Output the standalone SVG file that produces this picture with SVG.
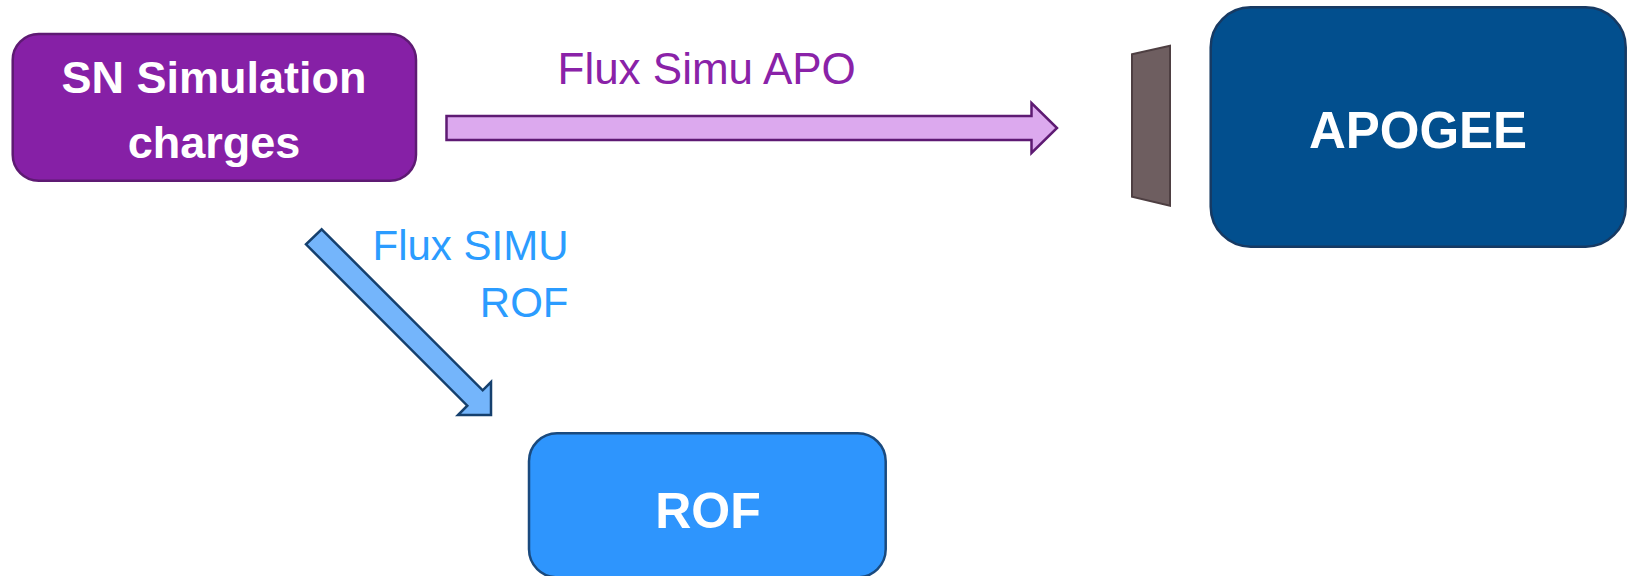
<svg xmlns="http://www.w3.org/2000/svg" width="1627" height="576" viewBox="0 0 1627 576">
  <style>
    .node-label { font-family: "Liberation Sans", Arial, sans-serif; font-weight: bold; fill: #ffffff; text-anchor: middle; }
    .edge-label { font-family: "Liberation Sans", Arial, sans-serif; }
    .apo { fill: #8a22a8; }
    .rof { fill: #2b9cff; }
  </style>
  <rect width="1627" height="576" fill="#ffffff"/>
  <g id="connectors">
    <g id="edge-apo">
      <polygon points="446.5,116 1031.5,116 1031.5,103 1057,128 1031.5,153 1031.5,140 446.5,140" fill="#dca9ee" stroke="#5e1a73" stroke-width="2.5" stroke-linejoin="miter"/>
      <text class="edge-label apo" x="557.5" y="83.5" font-size="44">Flux Simu APO</text>
    </g>
    <g id="edge-rof">
      <polygon points="321.7,229.3 482.7,390.3 491,382 491,415 458,415 467.3,405.7 306,244.3" fill="#74b5fb" stroke="#15406e" stroke-width="2.5" stroke-linejoin="miter"/>
      <text class="edge-label rof" x="568.5" y="260" font-size="42" text-anchor="end">Flux SIMU</text>
      <text class="edge-label rof" x="568.5" y="316.5" font-size="42" text-anchor="end">ROF</text>
    </g>
  </g>
  <g id="node-sn">
    <rect x="12.7" y="34" width="403.3" height="146.7" rx="26" ry="26" fill="#8620a6" stroke="#5e1a73" stroke-width="2.5"/>
    <text class="node-label" x="214" y="93.3" font-size="45">SN Simulation</text>
    <text class="node-label" x="214" y="158" font-size="45">charges</text>
  </g>
  <g id="barrier">
    <polygon points="1132,54.3 1170,45.7 1170,205.7 1132,196.7" fill="#6e5e60" stroke="#4e3f42" stroke-width="2"/>
  </g>
  <g id="node-apogee">
    <rect x="1210.7" y="7.3" width="415" height="239.4" rx="40" ry="40" fill="#024f8e" stroke="#173a63" stroke-width="2.5"/>
    <text class="node-label" x="1418" y="148.3" font-size="51">APOGEE</text>
  </g>
  <g id="node-rof">
    <rect x="529" y="433.3" width="356.7" height="144" rx="28" ry="28" fill="#2e95fd" stroke="#1a4a7e" stroke-width="2.5"/>
    <text class="node-label" x="708" y="528.3" font-size="50">ROF</text>
  </g>
</svg>
